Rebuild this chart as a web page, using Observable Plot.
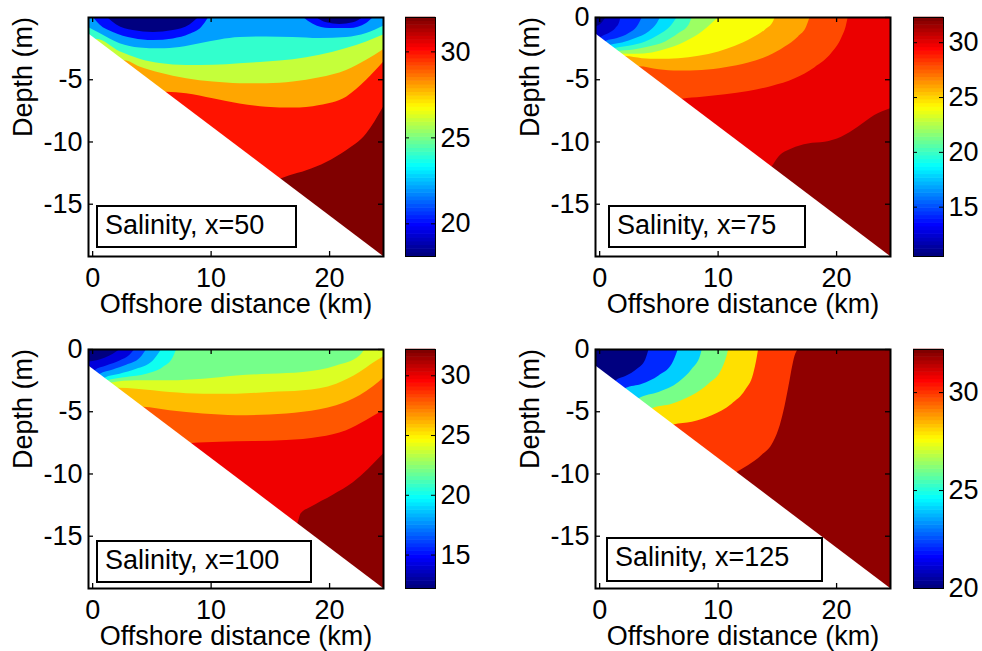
<!DOCTYPE html>
<html><head><meta charset="utf-8">
<script src="https://cdn.jsdelivr.net/npm/d3@7"></script>
<script src="https://cdn.jsdelivr.net/npm/@observablehq/plot@0.6"></script>
<style>
body{margin:0;background:#fff;overflow:hidden}
#fig{position:relative;width:982px;height:651px;font-family:"Liberation Sans",Arial,Helvetica,sans-serif;overflow:hidden}
#fig svg{position:absolute}
.box{position:absolute;box-sizing:border-box;border:2px solid #000;background:#fff;font-size:27px;line-height:37px;padding-left:7px;color:#000;white-space:nowrap}
</style></head><body><div id="fig"></div><script>
// ---------- shared axes / geometry data ----------
const xDomain = [-0.35, 24.55];
const yDomain = [-19.2, 0];
const xTicks = [0, 10, 20];
const bathymetry = [[-0.35, -1.3], [24.55, -19.2]];
const xLabel = "Offshore distance (km)";
const yLabel = "Depth (m)";
const levelStep = 2;

// ---------- Salinity, x=50 : isolines [km, m] ----------
const s50_iso20a = [[1.25,0],[2.03,-0.6],[3.43,-1.05],[5.12,-1.2],[6.81,-1.05],[8.21,-0.6],[8.95,0]];
const s50_iso20b = [[18.9,0],[19.75,-0.43],[20.87,-0.56],[22.0,-0.43],[22.84,0]];
const s50_iso22a = [[0.06,0],[0.62,-0.6],[1.74,-1.2],[3.43,-1.68],[5.12,-1.85],[6.81,-1.72],[8.21,-1.35],[9.2,-0.8],[9.8,0]];
const s50_iso22b = [[17.78,0],[18.62,-0.54],[20.03,-0.89],[21.72,-0.89],[23.12,-0.48],[23.69,0]];
const s50_iso24 = [[-0.35,-0.81],[0.62,-1.29],[2.31,-2.1],[3.99,-2.45],[5.68,-2.52],[7.37,-2.4],[9.06,-2.1],[10.75,-1.8],[12.43,-1.61],[14.68,-1.56],[16.93,-1.61],[19.18,-1.69],[21.43,-1.61],[23.12,-1.29],[24.55,-0.7]];
const s50_iso26 = [[-0.35,-19.2],[0.34,-1.75],[2.31,-2.75],[3.99,-3.35],[5.68,-3.7],[7.93,-3.86],[10.18,-3.84],[12.43,-3.71],[14.68,-3.58],[16.93,-3.39],[19.18,-3.04],[21.43,-2.5],[23.12,-1.96],[24.55,-1.4]];
const s50_iso28 = [[-0.35,-19.2],[2.73,-3.47],[3.99,-3.98],[5.68,-4.46],[7.93,-4.92],[10.18,-5.19],[12.43,-5.32],[14.68,-5.32],[16.93,-5.19],[19.18,-4.84],[21.43,-4.25],[23.12,-3.44],[24.55,-2.6]];
const s50_iso30 = [[-0.35,-19.2],[6.24,-6.0],[7.93,-6.13],[10.18,-6.53],[12.43,-6.94],[14.68,-7.2],[16.93,-7.28],[19.18,-7.07],[21.43,-6.4],[23.12,-5.05],[24.55,-3.6]];
const s50_iso32 = [[-0.35,-19.2],[15.95,-12.95],[16.65,-12.72],[18.06,-12.31],[19.75,-11.64],[21.43,-10.7],[23.12,-9.35],[24.55,-7.2]];
const cbar50 = [18.1, 32];
const cbTicks50 = [20, 25, 30];

// ---------- Salinity, x=75 ----------
const s75_iso12 = [[-0.35,-0.75],[0.11,-0.54],[0.39,-0.22],[0.53,0]];
const s75_iso14 = [[-0.35,-19.2],[0.11,-1.63],[0.81,-1.29],[1.37,-0.89],[1.71,-0.35],[1.79,0]];
const s75_iso16 = [[-0.35,-19.2],[0.53,-1.93],[1.51,-1.69],[2.49,-1.29],[3.19,-0.75],[3.61,0]];
const s75_iso18 = [[-0.35,-19.2],[0.95,-2.23],[1.93,-2.04],[3.05,-1.69],[4.17,-1.16],[4.87,-0.48],[5.15,0]];
const s75_iso20 = [[-0.35,-19.2],[1.32,-2.5],[2.49,-2.31],[3.89,-1.96],[5.01,-1.42],[5.99,-0.75],[6.55,0]];
const s75_iso22 = [[-0.35,-19.2],[1.65,-2.74],[2.77,-2.63],[4.17,-2.37],[5.57,-1.96],[6.69,-1.29],[7.54,-0.62],[7.82,0]];
const s75_iso24 = [[-0.35,-19.2],[1.93,-2.94],[3.05,-2.96],[4.45,-2.85],[5.85,-2.5],[7.25,-1.96],[8.66,-1.16],[9.5,-0.48],[10.06,0]];
const s75_iso26 = [[-0.35,-19.2],[2.21,-3.14],[3.61,-3.31],[5.01,-3.36],[6.69,-3.31],[8.38,-3.12],[10.06,-2.77],[11.46,-2.31],[12.86,-1.69],[13.98,-1.02],[14.68,-0.35],[14.82,0]];
const s75_iso28 = [[-0.35,-19.2],[3.33,-3.95],[5.01,-4.19],[6.69,-4.3],[8.66,-4.25],[10.62,-4.03],[12.58,-3.66],[14.26,-3.12],[15.66,-2.37],[16.78,-1.56],[17.48,-0.75],[17.76,0]];
const s75_iso30 = [[-0.35,-19.2],[6.97,-6.56],[8.66,-6.4],[10.62,-6.21],[12.58,-5.94],[14.54,-5.54],[16.5,-4.92],[18.18,-4.03],[19.58,-2.9],[20.42,-1.69],[20.84,-0.62],[20.98,0]];
const s75_iso32 = [[-0.35,-19.2],[14.54,-12.0],[15.1,-11.24],[16.22,-10.56],[17.62,-10.16],[19.02,-10.03],[20.42,-9.62],[21.82,-8.82],[23.22,-7.88],[24.55,-7.34]];
const cbar75 = [10.5, 32.3];
const cbTicks75 = [15, 20, 25, 30];

// ---------- Salinity, x=100 ----------
const s100_iso14 = [[-0.35,-1.0],[0.62,-0.84],[1.46,-0.52],[2.03,-0.2],[2.31,0]];
const s100_iso16 = [[-0.35,-19.2],[0.2,-1.7],[1.18,-1.32],[2.31,-0.92],[3.15,-0.47],[3.57,0]];
const s100_iso18 = [[-0.35,-19.2],[0.62,-2.0],[1.74,-1.64],[2.87,-1.27],[3.99,-0.73],[4.56,0]];
const s100_iso20 = [[-0.35,-19.2],[1.04,-2.3],[2.31,-1.99],[3.71,-1.59],[5.12,-0.92],[5.82,0]];
const s100_iso22 = [[-0.35,-19.2],[1.32,-2.5],[2.87,-2.25],[4.56,-1.99],[5.96,-1.45],[6.81,-0.65],[7.09,0]];
const s100_iso24 = [[-0.35,-19.2],[1.6,-2.7],[3.71,-2.52],[6.53,-2.52],[9.34,-2.39],[12.15,-2.12],[14.96,-1.99],[17.78,-1.85],[20.59,-1.32],[22.56,-0.52],[22.98,0]];
const s100_iso26 = [[-0.35,-19.2],[2.17,-3.11],[3.71,-3.19],[6.53,-3.45],[9.34,-3.59],[12.15,-3.59],[14.96,-3.45],[17.78,-3.32],[20.59,-2.79],[22.56,-1.85],[23.69,-1.1],[24.55,-0.6]];
const s100_iso28 = [[-0.35,-19.2],[4.28,-4.63],[6.53,-4.92],[9.34,-5.19],[12.15,-5.32],[14.96,-5.27],[17.78,-5.05],[20.59,-4.52],[22.56,-3.72],[23.69,-3.0],[24.55,-2.3]];
const s100_iso30 = [[-0.35,-19.2],[8.35,-7.56],[10.75,-7.45],[13.56,-7.4],[16.37,-7.32],[19.18,-7.05],[21.43,-6.52],[23.12,-5.7],[24.55,-4.9]];
const s100_iso32 = [[-0.35,-19.2],[17.3,-13.99],[17.6,-13.2],[18.4,-12.7],[20.3,-11.7],[22.0,-10.7],[24.55,-8.4]];
const cbar100 = [12.2, 32.2];
const cbTicks100 = [15, 20, 25, 30];

// ---------- Salinity, x=125 ----------
const s125_iso22 = [[-0.35,-19.2],[1.37,-2.54],[2.21,-2.17],[3.19,-1.59],[3.89,-0.84],[4.17,0]];
const s125_iso24 = [[-0.35,-19.2],[2.21,-3.14],[3.61,-2.79],[5.01,-2.12],[6.13,-1.19],[6.64,0]];
const s125_iso26 = [[-0.35,-19.2],[3.33,-3.95],[5.01,-3.45],[6.69,-2.65],[7.82,-1.59],[8.52,-0.52],[8.66,0]];
const s125_iso28 = [[-0.35,-19.2],[4.45,-4.75],[6.13,-4.39],[7.82,-3.72],[9.22,-2.79],[10.34,-1.59],[10.76,-0.52],[10.9,0]];
const s125_iso30 = [[-0.35,-19.2],[6.27,-6.06],[7.82,-5.85],[9.5,-5.32],[11.18,-4.39],[12.3,-3.32],[13.0,-1.99],[13.28,-0.79],[13.42,0]];
const s125_iso32 = [[-0.35,-19.2],[11.6,-9.89],[12.58,-9.32],[13.7,-8.52],[14.68,-7.45],[15.24,-6.12],[15.66,-4.52],[15.99,-2.92],[16.3,-1.32],[16.5,-0.52],[16.78,0]];
const cbar125 = [20, 32.2];
const cbTicks125 = [20, 25, 30];

const titles = ["Salinity, x=50", "Salinity, x=75", "Salinity, x=100", "Salinity, x=125"];

// ---------- layout (positions/sizes) ----------
const FW = 295, FH = 239;
const FONT = '"Liberation Sans", Arial, Helvetica, sans-serif';
const panels = [
  {left: 0, top: 0, cbLeft: 405, box: [96, 205, 201, 43], yTicks: [-15, -10, -5], cbar: cbar50, cbTicks: cbTicks50, title: titles[0], top32: 32,
   iso: [[32, s50_iso32], [30, s50_iso30], [28, s50_iso28], [26, s50_iso26], [24, s50_iso24], [22, s50_iso22a], [22, s50_iso22b], [20, s50_iso20a], [20, s50_iso20b]]},
  {left: 507, top: 0, cbLeft: 913, box: [608, 205, 198, 43], yTicks: [-15, -10, -5, 0], cbar: cbar75, cbTicks: cbTicks75, title: titles[1], top32: 32,
   iso: [[32, s75_iso32], [30, s75_iso30], [28, s75_iso28], [26, s75_iso26], [24, s75_iso24], [22, s75_iso22], [20, s75_iso20], [18, s75_iso18], [16, s75_iso16], [14, s75_iso14], [12, s75_iso12]]},
  {left: 0, top: 332, cbLeft: 405, box: [96, 540, 216, 43], yTicks: [-15, -10, -5, 0], cbar: cbar100, cbTicks: cbTicks100, title: titles[2], top32: 32,
   iso: [[32, s100_iso32], [30, s100_iso30], [28, s100_iso28], [26, s100_iso26], [24, s100_iso24], [22, s100_iso22], [20, s100_iso20], [18, s100_iso18], [16, s100_iso16], [14, s100_iso14]]},
  {left: 507, top: 332, cbLeft: 913, box: [606, 537, 217, 45], yTicks: [-15, -10, -5, 0], cbar: cbar125, cbTicks: cbTicks125, title: titles[3], top32: 32,
   iso: [[32, s125_iso32], [30, s125_iso30], [28, s125_iso28], [26, s125_iso26], [24, s125_iso24], [22, s125_iso22]]}
];

// MATLAB "jet" colormap
function jet(t) {
  const c = v => Math.max(0, Math.min(1, v));
  return d3.rgb(255 * c(1.5 - Math.abs(4 * t - 3)), 255 * c(1.5 - Math.abs(4 * t - 2)), 255 * c(1.5 - Math.abs(4 * t - 1))).formatHex();
}

const fig = document.getElementById("fig");

for (const p of panels) {
  const main = Plot.plot({
    width: 88 + FW + 10, height: 17 + FH + 70,
    marginLeft: 88, marginRight: 10, marginTop: 17, marginBottom: 70,
    style: {fontFamily: FONT, fontSize: "27px", color: "#000", background: "transparent"},
    x: {domain: xDomain, ticks: xTicks, tickSize: 0, tickPadding: 11, tickFormat: d => String(d), label: null},
    y: {domain: yDomain, ticks: p.yTicks, tickSize: 0, tickPadding: 6, tickFormat: d => String(d), label: null},
    color: {type: "linear", domain: p.cbar, interpolate: jet, clamp: true},
    marks: [
      Plot.rect([p.top32], {x1: () => xDomain[0], x2: () => xDomain[1], y1: () => yDomain[0], y2: () => yDomain[1], fill: d => d}),
      ...p.iso.map(([level, pts]) => Plot.areaY(pts, {
        x: d => d[0], y1: () => yDomain[1], y2: d => d[1],
        fill: () => level - levelStep, curve: "monotone-x", clip: true
      })),
      Plot.areaY(bathymetry, {x: d => d[0], y1: d => d[1], y2: () => yDomain[0], fill: "white"}),
      Plot.frame({stroke: "black", strokeWidth: 2}),
      Plot.tickX(xTicks, {x: d => d, insetTop: FH - 5, stroke: "black", strokeWidth: 1.3}),
      Plot.tickX(xTicks, {x: d => d, insetBottom: FH - 5, stroke: "black", strokeWidth: 1.3}),
      Plot.tickY(p.yTicks, {y: d => d, insetRight: FW - 5, stroke: "black", strokeWidth: 1.3}),
      Plot.tickY(p.yTicks, {y: d => d, insetLeft: FW - 5, stroke: "black", strokeWidth: 1.3}),
      Plot.text([yLabel], {text: d => d, frameAnchor: "left", rotate: -90, dx: -65, fontSize: 27, fill: "#000"}),
      Plot.text([xLabel], {text: d => d, frameAnchor: "bottom", dy: 56, fontSize: 27, fill: "#000"})
    ]
  });
  main.style.left = p.left + "px";
  main.style.top = p.top + "px";
  fig.appendChild(main);

  // colorbar: 64 colormap entries, as in MATLAB
  const [lo, hi] = p.cbar;
  const steps = d3.range(64).map(i => ({y1: lo + (hi - lo) * i / 64, y2: lo + (hi - lo) * (i + 1) / 64, v: lo + (hi - lo) * i / 63}));
  const cb = Plot.plot({
    width: 80, height: 17 + FH + 70,
    marginLeft: 0, marginRight: 50, marginTop: 17, marginBottom: 70,
    style: {fontFamily: FONT, fontSize: "27px", color: "#000", background: "transparent"},
    x: {domain: [0, 1], axis: null},
    y: {domain: p.cbar, ticks: p.cbTicks, axis: "right", tickSize: 0, tickPadding: 5, tickFormat: d => String(d), label: null},
    color: {type: "linear", domain: p.cbar, interpolate: jet},
    marks: [
      Plot.rect(steps, {x1: () => 0, x2: () => 1, y1: "y1", y2: "y2", fill: "v", inset: -0.3}),
      Plot.frame({stroke: "black", strokeWidth: 1}),
      Plot.tickY(p.cbTicks, {y: d => d, insetRight: 30 - 4, stroke: "black"}),
      Plot.tickY(p.cbTicks, {y: d => d, insetLeft: 30 - 4, stroke: "black"})
    ]
  });
  cb.style.left = p.cbLeft + "px";
  cb.style.top = p.top + "px";
  fig.appendChild(cb);

  const box = document.createElement("div");
  box.className = "box";
  const [bx, by, bw, bh] = p.box;
  Object.assign(box.style, {left: bx + "px", top: by + "px", width: bw + "px", height: bh + "px"});
  box.textContent = p.title;
  fig.appendChild(box);
}
</script></body></html>
